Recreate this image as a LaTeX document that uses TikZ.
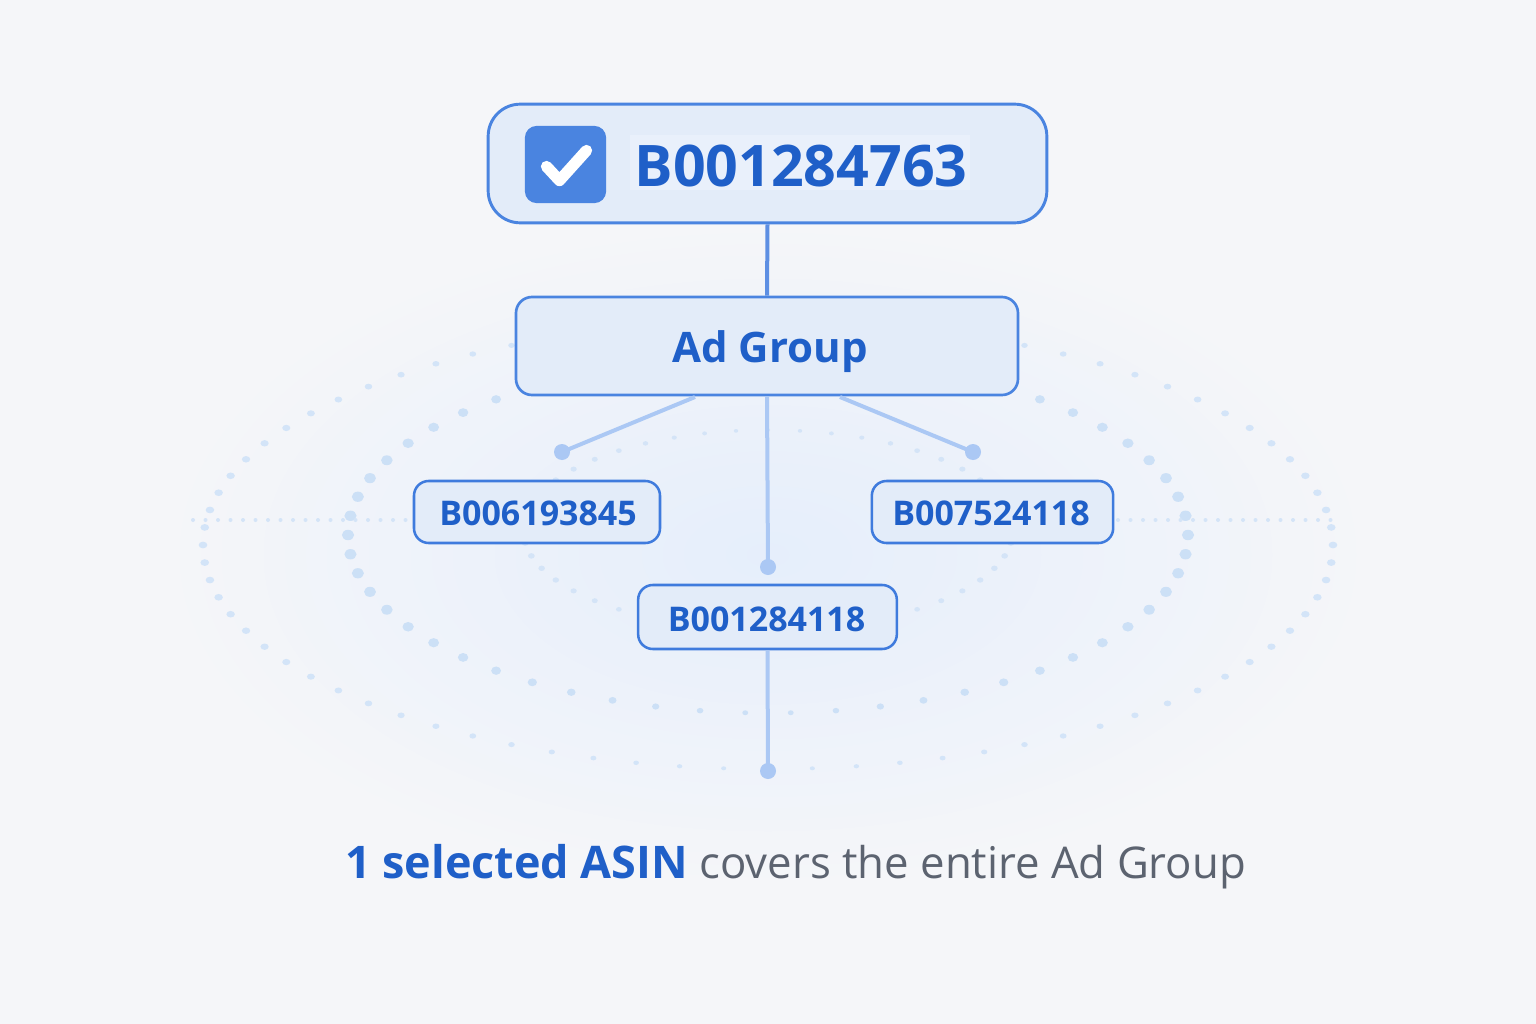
\documentclass[tikz,border=0pt]{standalone}
\usepackage{fontspec}
\setmainfont{Open Sans}
\usetikzlibrary{calc}
\definecolor{bg}{HTML}{F5F6F9}
\definecolor{gcenter}{HTML}{E5EEFB}
\definecolor{boxfill}{HTML}{E3ECF9}
\definecolor{hlfill}{HTML}{E9F0FB}
\definecolor{boxline}{HTML}{4A84E0}
\definecolor{smline}{HTML}{3F7BDD}
\definecolor{txtblue}{HTML}{1F5FC8}
\definecolor{capgray}{HTML}{5C6370}
\definecolor{topconn}{HTML}{5D8FE3}
\definecolor{lconn}{HTML}{ABC8F4}
\definecolor{chkfill}{HTML}{4A84E0}
\definecolor{dotouter}{HTML}{D3E4F8}
\definecolor{dotmid}{HTML}{CCE0F6}
\definecolor{dotinner}{HTML}{D4E4F7}
\begin{document}
\begin{tikzpicture}[x=0.75pt,y=-0.75pt,
  bigbox/.style={draw=boxline, line width=2.2pt, fill=boxfill, rounded corners=24pt, inner sep=0pt},
  agbox/.style={draw=boxline, line width=2pt, fill=boxfill, rounded corners=12pt, inner sep=0pt},
  smbox/.style={draw=smline, line width=1.9pt, fill=boxfill, rounded corners=11pt, inner sep=0pt, minimum height=46.5pt},
  chkbox/.style={fill=chkfill, rounded corners=9pt, inner sep=0pt, minimum width=61pt, minimum height=58pt},
  enddot/.style={circle, fill=lconn, inner sep=0pt, minimum size=12pt},
  mainconn/.style={draw=topconn, line width=3pt},
  subconn/.style={draw=lconn, line width=3pt},
  smtext/.style={text=txtblue, font=\fontsize{25.5}{28}\selectfont\bfseries, inner sep=0pt, anchor=base}
]
\useasboundingbox (0,0) rectangle (1536,1024);
\fill[bg] (0,0) rectangle (1536,1024);
% soft glow built from opaque ellipses of gradually mixed colour
\foreach \k in {30,29,...,1} {
  \pgfmathtruncatemacro\pp{100-\k*100/30}
  \fill[gcenter!\pp!bg] (768,555) ellipse ({\k*21} and {\k*11.5});
}

% decorative dotted ellipses
\foreach \i in {0,...,79} {
  \pgfmathsetmacro\tt{\i*4.5}
  \pgfmathsetmacro\rr{2.0+1.6*abs(cos(\tt))}
  \fill[dotouter] ({768+565*cos(\tt)},{545+224*sin(\tt)}) ellipse ({\rr*0.9pt} and {\rr*0.7pt});
}
\foreach \i in {0,...,57} {
  \pgfmathsetmacro\tt{\i*6.2069}
  \pgfmathsetmacro\rr{2.4+3.0*abs(cos(\tt))}
  \fill[dotmid] ({768+420*cos(\tt)},{535+178*sin(\tt)}) ellipse ({\rr*0.85pt} and {\rr*0.72pt});
}
\foreach \i in {0,...,47} {
  \pgfmathsetmacro\tt{\i*7.5}
  \pgfmathsetmacro\rr{1.8+1.2*abs(cos(\tt))}
  \fill[dotinner] ({768+245*cos(\tt)},{530+100*sin(\tt)}) ellipse ({\rr*0.85pt} and {\rr*0.7pt});
}
\foreach \x in {193,205.5,...,410} { \fill[dotinner] (\x,520) circle (1.5pt); }
\foreach \x in {1118,1130.5,...,1340} { \fill[dotinner] (\x,520) circle (1.5pt); }

% boxes
\node[bigbox, minimum width=419pt, minimum height=89pt] (tb) at (767.5,163.5) {};
\fill[hlfill] (630,135) rectangle (970,190);
\node[chkbox] (cb) at (565.5,164.5) {};
\draw[white, line width=8.5pt, line cap=round, line join=round]
  ($(cb.center)+(-19,2)$) -- ($(cb.center)+(-6,16)$) -- ($(cb.center)+(21,-14)$);
\node[text=txtblue, font=\fontsize{43}{48}\selectfont\bfseries, inner sep=0pt, anchor=base] (ttl) at (801,186) {B001284763};

\node[agbox, minimum width=376.5pt, minimum height=73.5pt] (ag) at (767,346) {};
\node[text=txtblue, font=\fontsize{31.5}{35}\selectfont\bfseries, inner sep=0pt, anchor=base] (agt) at (770,362) {Ad Group};

\node[smbox, minimum width=184.5pt] (b1) at (537,512) {};
\node[smbox, minimum width=181pt] (b2) at (992.5,512) {};
\node[smbox, minimum width=194pt, minimum height=48pt] (b3) at (767.5,617) {};
\node[smtext] (b1t) at (538,525) {B006193845};
\node[smtext] (b2t) at (991,525) {B007524118};
\node[smtext] (b3t) at (766.5,631) {B001284118};

% connectors
\draw[mainconn] (tb.south) -- (ag.north);
\coordinate (agl) at (695,397);
\coordinate (agr) at (840,397);
\node[enddot] (dl) at (562,452) {};
\node[enddot] (dr) at (973,452) {};
\node[enddot] (dm) at (768,567) {};
\node[enddot] (db) at (768,771) {};
\draw[subconn] (agl) -- (dl.center);
\draw[subconn] (agr) -- (dr.center);
\draw[subconn] (ag.south) -- (dm.center);
\draw[subconn] (b3.south) -- (db.center);

% caption
\node[inner sep=0pt, anchor=base west] (cap) at (345,878)
  {\textcolor{txtblue}{\fontsize{33.7}{40}\selectfont\bfseries 1 selected ASIN}\fontsize{32.8}{40}\selectfont{} \textcolor{capgray}{covers the entire Ad Group}};
\end{tikzpicture}
\end{document}
